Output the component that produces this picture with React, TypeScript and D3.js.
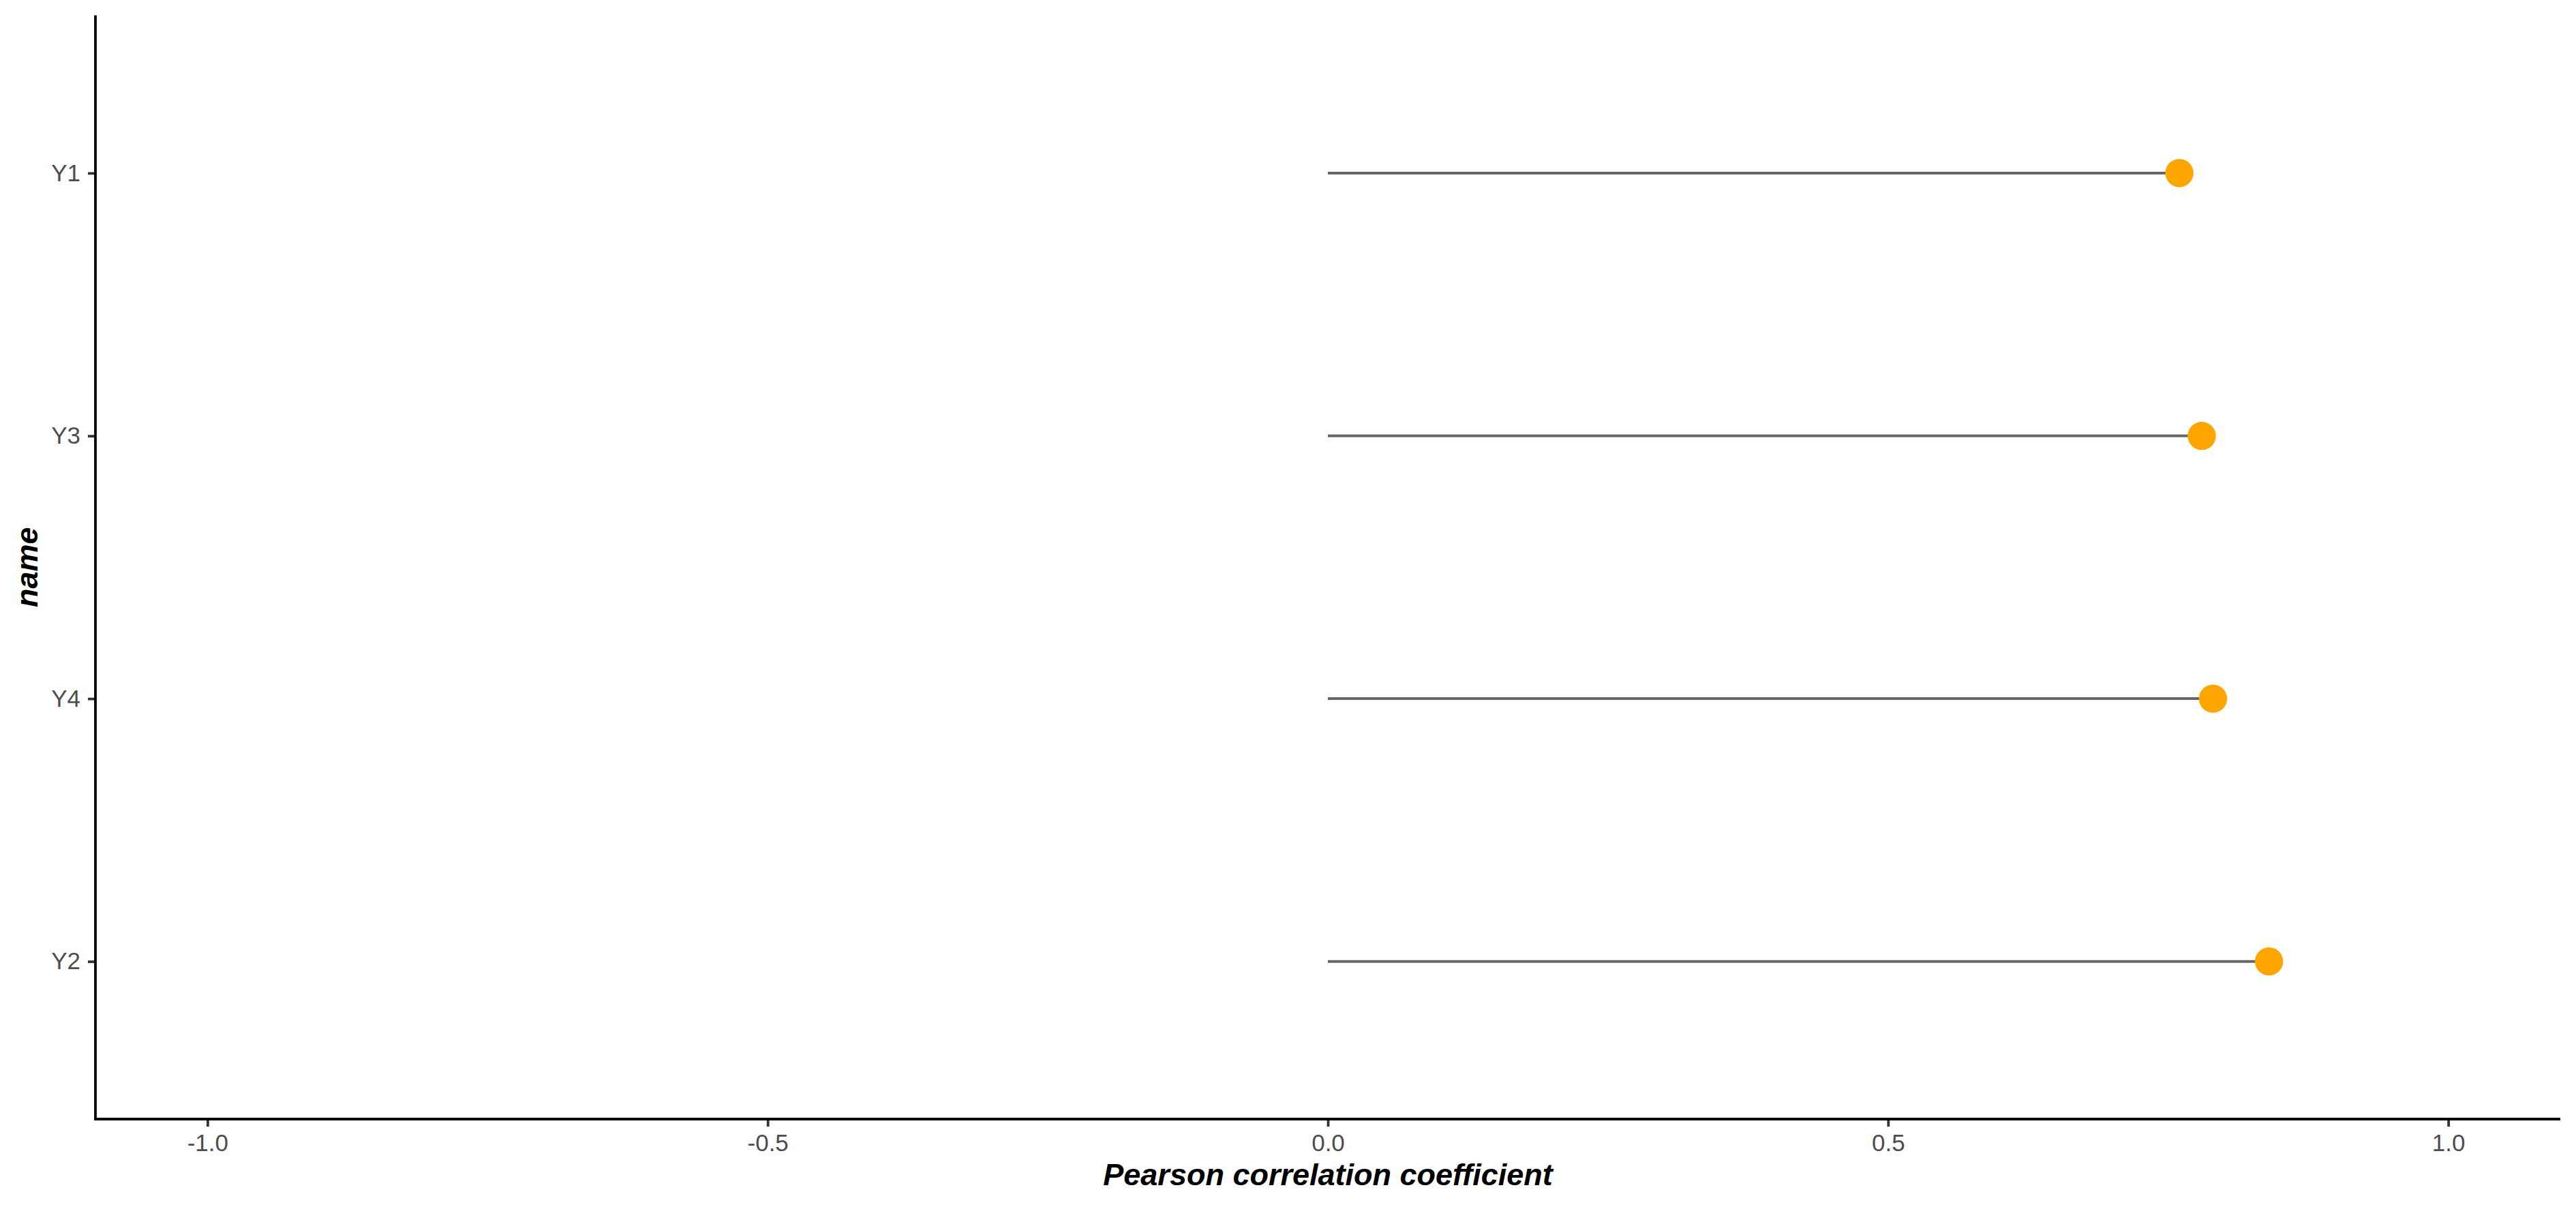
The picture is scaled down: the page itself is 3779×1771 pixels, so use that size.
import React, { useEffect, useRef } from 'react'
import * as d3 from 'd3'

const names = ['Y1', 'Y3', 'Y4', 'Y2']
const values = [0.76, 0.78, 0.79, 0.84]
const xTicks = [-1, -0.5, 0, 0.5, 1]
const xTitle = 'Pearson correlation coefficient'
const yTitle = 'name'

export default function App() {
    const ref = useRef<SVGSVGElement | null>(null)

    const width = 3779
    const height = 1771
    const left = 140
    const right = 3756
    const top = 22.6
    const bottom = 1642
    const font = 'Liberation Sans, Arial, Helvetica, sans-serif'

    function drawChart() {
        const svg = d3.select(ref.current)
        svg.selectAll('*').remove()
        svg.attr('width', width).attr('height', height)

        svg.append('rect').attr('width', width).attr('height', height).attr('fill', 'white')

        const x = d3.scaleLinear().domain([-1.1, 1.1]).range([left, right])
        const y = d3.scalePoint<string>().domain(names).range([top, bottom]).padding(0.6)

        const rows = names.map((n, i) => ({ name: n, value: values[i] }))

        // lollipop sticks
        svg.append('g')
            .selectAll('line')
            .data(rows)
            .enter().append('line')
            .attr('x1', x(0))
            .attr('x2', d => x(d.value))
            .attr('y1', d => y(d.name) as number)
            .attr('y2', d => y(d.name) as number)
            .attr('stroke', '#666666')
            .attr('stroke-width', 4)

        // dots
        svg.append('g')
            .selectAll('circle')
            .data(rows)
            .enter().append('circle')
            .attr('cx', d => x(d.value))
            .attr('cy', d => y(d.name) as number)
            .attr('r', 20.7)
            .attr('fill', '#FFA500')

        // x axis
        const gx = svg.append('g')
            .attr('transform', 'translate(0,' + bottom + ')')
            .call(d3.axisBottom(x)
                .tickValues(xTicks)
                .tickFormat((d: any) => (+d).toFixed(1))
                .tickSize(11)
                .tickPadding(11)
                .tickSizeOuter(0))
        gx.select('.domain').remove()
        gx.selectAll('.tick line').attr('stroke', '#333333').attr('stroke-width', 3.8)
        gx.selectAll('.tick text')
            .attr('fill', '#4d4d4d')
            .style('font-family', font)
            .style('font-size', '35px')

        // y axis
        const gy = svg.append('g')
            .attr('transform', 'translate(' + left + ',0)')
            .call(d3.axisLeft(y).tickSize(11).tickPadding(11).tickSizeOuter(0))
        gy.select('.domain').remove()
        gy.selectAll('.tick line').attr('stroke', '#333333').attr('stroke-width', 3.8)
        gy.selectAll('.tick text')
            .attr('fill', '#4d4d4d')
            .style('font-family', font)
            .style('font-size', '35px')

        // axis lines
        svg.append('path')
            .attr('d', 'M' + left + ',' + top + 'V' + bottom + 'H' + right)
            .attr('fill', 'none')
            .attr('stroke', 'black')
            .attr('stroke-width', 3.8)
            .attr('stroke-linejoin', 'miter')

        // titles
        svg.append('text')
            .attr('x', (left + right) / 2)
            .attr('y', 1739)
            .attr('text-anchor', 'middle')
            .style('font-family', font)
            .style('font-size', '45px')
            .style('font-weight', 'bold')
            .style('font-style', 'italic')
            .text(xTitle)

        svg.append('text')
            .attr('transform', 'translate(55,' + (top + bottom) / 2 + ') rotate(-90)')
            .attr('text-anchor', 'middle')
            .style('font-family', font)
            .style('font-size', '45px')
            .style('font-weight', 'bold')
            .style('font-style', 'italic')
            .text(yTitle)
    }

    useEffect(() => {
        drawChart()
    }, [])

    return (
        <div style={{ position: 'absolute', left: 0, top: 0 }}>
            <svg ref={ref} style={{ display: 'block' }} />
        </div>
    )
}
